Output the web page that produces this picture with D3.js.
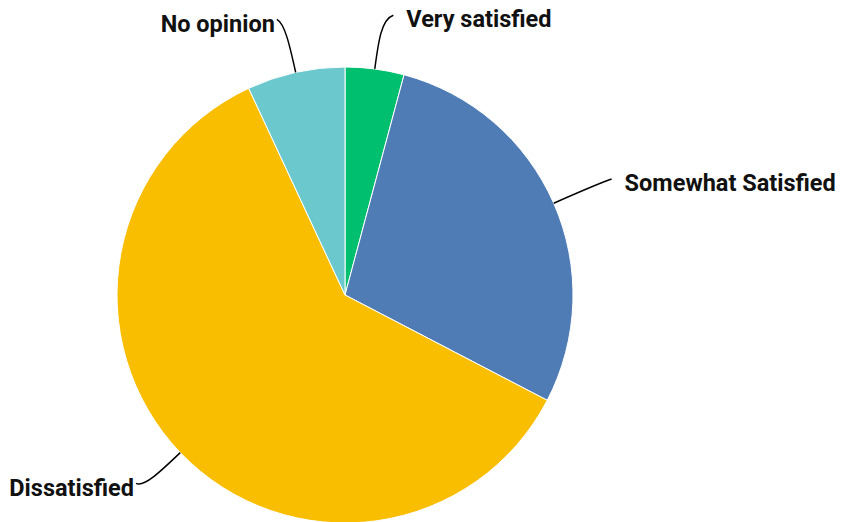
<!DOCTYPE html>
<html>
<head>
<meta charset="utf-8">
<script src="https://cdn.jsdelivr.net/npm/d3@7"></script>
<style>
   body { margin: 0; background: #fff; }
   text { font-family: Roboto, 'Noto Sans', sans-serif; font-weight: 700; font-size: 23.5px; fill: #111; }
</style>
</head>
<body>
<div id="pie"></div>
<script>

// CHART DATA
var categories = ['Very satisfied', 'Somewhat Satisfied', 'Dissatisfied', 'No opinion'];
var values = [4.17, 28.47, 60.42, 6.94];
var colors = ['#00BF6F', '#507CB6', '#F9BE00', '#6BC8CD'];

// SETTINGS
var settings = {
   width: 843,
   height: 522,
   cx: 345,
   cy: 295,
   radius: 228
};

// GENERATE CANVAS
var canvas = d3.select('#pie').append('svg')
   .attr('width', settings.width)
   .attr('height', settings.height)

var g = canvas.append('g')
   .attr('transform', 'translate(' + settings.cx + ',' + settings.cy + ')')

// PIE LAYOUT, CLOCKWISE FROM TOP, NO SORTING
var pie = d3.pie().sort(null).value(d => d.value);
var slices = pie(categories.map((c, i) => { return { name: c, value: values[i], color: colors[i] } }));

var arc = d3.arc().innerRadius(0).outerRadius(settings.radius);

// GENERATE SLICES
g.selectAll('path.slice')
   .data(slices)
      .enter().append('path')
         .attr('class', 'slice')
         .attr('d', arc)
         .attr('fill', d => d.data.color)
         .attr('stroke', '#fff')
         .attr('stroke-width', 1)

// POINT ON A RADIUS AT THE MIDDLE ANGLE OF A SLICE
function polar(d, r) {
   var a = (d.startAngle + d.endAngle) / 2;
   return [Math.sin(a) * r, -Math.cos(a) * r];
}

function side(d) {
   return (d.startAngle + d.endAngle) / 2 < Math.PI ? 1 : -1;
}

// LEADER LINE END POINT
function tip(d) {
   var k = polar(d, settings.radius * 1.22);
   return [k[0] + side(d) * (side(d) > 0 ? 12 : 8), k[1] - 4];
}

// GENERATE LEADER LINES
g.selectAll('path.leader')
   .data(slices)
      .enter().append('path')
         .attr('class', 'leader')
         .attr('fill', 'none')
         .attr('stroke', '#000')
         .attr('stroke-width', 1.5)
         .attr('d', d => {
            var p0 = polar(d, settings.radius),
                p1 = polar(d, settings.radius * 1.12),
                p2 = polar(d, settings.radius * 1.22),
                p3 = tip(d);
            return 'M' + p0 + 'C' + p1 + ' ' + p2 + ' ' + p3;
         })

// GENERATE LABELS
g.selectAll('text')
   .data(slices)
      .enter().append('text')
         .attr('x', d => tip(d)[0] + (side(d) > 0 ? 13 : -2))
         .attr('y', d => tip(d)[1] + 4)
         .attr('dy', '0.35em')
         .attr('text-anchor', d => side(d) > 0 ? 'start' : 'end')
         .text(d => d.data.name)

</script>
</body>
</html>
